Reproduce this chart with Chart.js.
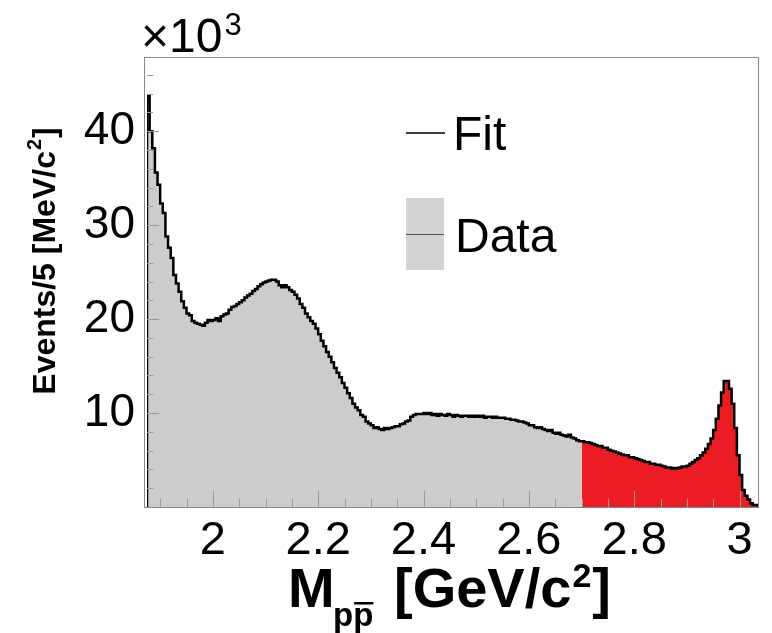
<!DOCTYPE html>
<html>
<head>
<meta charset="utf-8">
<script src="https://cdn.jsdelivr.net/npm/chart.js@4.4.1/dist/chart.umd.min.js"></script>
<style>
  html, body { margin: 0; padding: 0; background: #fff; }
  #wrap { width: 772px; height: 633px; }
</style>
</head>
<body>
<div id="wrap"><canvas id="massChart" width="772" height="633"></canvas></div>
<script>
// M(p pbar) histogram, 5 MeV bins, counts in units of 10^3
const binStart = 1.875;
const binWidth = 0.005;

// gray part: 1.875 .. 2.700 GeV
const dataCounts = [
  29.7, 43.8, 40.0, 38.2, 35.6, 34.3, 32.3, 31.3, 28.8, 27.6,
  26.5, 24.7, 23.8, 22.9, 21.9, 21.2, 20.6, 20.4, 19.8, 19.6,
  19.5, 19.4, 19.3, 19.6, 19.9, 19.8, 19.9, 20.1, 19.8, 20.3,
  20.5, 20.6, 21.0, 21.3, 21.4, 21.6, 21.8, 22.0, 22.3, 22.5,
  22.7, 23.0, 23.2, 23.5, 23.7, 23.9, 24.0, 24.1, 24.2, 24.2,
  24.0, 23.6, 23.4, 23.6, 23.4, 23.1, 22.9, 22.6, 22.2, 21.6,
  21.2, 20.6, 20.2, 19.8, 19.5, 19.0, 18.4, 17.7, 17.1, 16.5,
  16.0, 15.4, 14.8, 14.3, 13.8, 13.2, 12.7, 12.1, 11.6, 11.0,
  10.6, 10.3, 9.8, 9.6, 9.1, 8.9, 8.7, 8.4, 8.5, 8.3,
  8.2, 8.4, 8.3, 8.4, 8.5, 8.6, 8.6, 8.8, 8.9, 9.1,
  9.2, 9.6, 9.8, 9.9, 9.9, 9.9, 10.0, 9.9, 10.0, 9.8,
  9.9, 9.7, 9.9, 9.8, 9.7, 9.9, 9.8, 9.6, 9.8, 9.7,
  9.6, 9.7, 9.7, 9.6, 9.7, 9.6, 9.7, 9.6, 9.7, 9.5,
  9.6, 9.6, 9.5, 9.6, 9.5, 9.5, 9.5, 9.4, 9.4, 9.3,
  9.3, 9.2, 9.1, 9.1, 9.0, 8.9, 8.7, 8.7, 8.5, 8.4,
  8.5, 8.3, 8.2, 8.1, 8.2, 7.9, 7.8, 7.9, 7.7, 7.6,
  7.5, 7.7, 7.4, 7.3, 7.1
];

// red part: 2.700 .. 3.035 GeV
const signalCounts = [
  7.0, 7.0, 6.9, 6.9, 6.8, 6.7, 6.6, 6.5, 6.5, 6.3,
  6.3, 6.1, 6.0, 5.9, 5.8, 5.7, 5.6, 5.5, 5.5, 5.3,
  5.3, 5.2, 5.1, 5.0, 4.9, 4.8, 4.8, 4.6, 4.6, 4.5,
  4.5, 4.4, 4.3, 4.2, 4.2, 4.1, 4.15, 4.1, 4.2, 4.3,
  4.3, 4.4, 4.6, 4.8, 5.0, 5.2, 5.5, 5.8, 6.2, 6.7,
  7.3, 8.2, 9.4, 10.8, 12.2, 13.4, 13.4, 12.6, 11.0, 8.4,
  5.5, 3.4, 1.8, 1.2, 0.8, 0.4, 0.2
];

const xTickValues = [2, 2.2, 2.4, 2.6, 2.8, 3];
const yTickValues = [10, 20, 30, 40];
const xRange = [1.875, 3.037];
const yRange = [0, 47.9];

const edge = (i) => +(binStart + i * binWidth).toFixed(3);

function toPoints(counts, offset) {
  return counts.map((v, i) => ({ x: edge(offset + i), y: v }));
}

const nGray = dataCounts.length;
const nAll = nGray + signalCounts.length;
const grayPoints = [{ x: edge(0), y: 0 }, ...toPoints(dataCounts, 0),
  { x: edge(nGray), y: dataCounts[nGray - 1] }];
const redPoints = [...toPoints(signalCounts, nGray),
  { x: edge(nAll), y: signalCounts[signalCounts.length - 1] }, { x: edge(nAll), y: 0 }];
const allCounts = dataCounts.concat(signalCounts);
const outlinePoints = [{ x: edge(0), y: 0 }, ...toPoints(allCounts, 0),
  { x: edge(nAll), y: allCounts[nAll - 1] }, { x: edge(nAll), y: 0 }];

const FONT = '"Liberation Sans", Arial, Helvetica, sans-serif';

// ROOT style inward ticks + frame
const rootAxes = {
  id: 'rootAxes',
  afterDatasetsDraw(chart) {
    const { ctx, chartArea: a, scales: { x, y } } = chart;
    ctx.save();
    ctx.strokeStyle = '#999';
    ctx.lineWidth = 1;
    ctx.beginPath();
    for (let v = 2; v < yRange[1]; v += 2) {
      const py = Math.round(y.getPixelForValue(v)) + 0.5;
      const len = v % 10 === 0 ? 12 : 6;
      ctx.moveTo(a.left, py);
      ctx.lineTo(a.left + len, py);
    }
    for (let k = 38; k * 0.05 < xRange[1]; k++) {
      const v = k * 0.05;
      const px = Math.round(x.getPixelForValue(v)) + 0.5;
      const len = k % 4 === 0 ? 16 : 8;
      ctx.moveTo(px, a.bottom);
      ctx.lineTo(px, a.bottom - len);
    }
    ctx.stroke();
    ctx.strokeStyle = '#888';
    ctx.strokeRect(a.left - 2.5, a.top + 0.5, a.right - a.left + 2, a.bottom - a.top);
    ctx.restore();
  },
  afterDraw(chart) {
    const ctx = chart.ctx;
    ctx.save();
    ctx.fillStyle = '#000';
    ctx.textBaseline = 'alphabetic';
    ctx.textAlign = 'left';

    // x10^3
    ctx.font = '48px ' + FONT;
    ctx.fillText('\u00d710', 141, 52);
    const w10 = ctx.measureText('\u00d710').width;
    ctx.font = '31px ' + FONT;
    ctx.fillText('3', 141 + w10 + 2, 35);

    // legend
    ctx.strokeStyle = '#000';
    ctx.lineWidth = 1.5;
    ctx.beginPath();
    ctx.moveTo(406, 133);
    ctx.lineTo(445, 133);
    ctx.stroke();
    ctx.font = '48px ' + FONT;
    ctx.fillText('Fit', 453, 150);
    ctx.fillStyle = '#d3d3d3';
    ctx.fillRect(406, 198, 38, 72);
    ctx.strokeStyle = '#555';
    ctx.lineWidth = 1;
    ctx.beginPath();
    ctx.moveTo(406, 234.5);
    ctx.lineTo(444, 234.5);
    ctx.stroke();
    ctx.fillStyle = '#000';
    ctx.fillText('Data', 455, 252);

    // x title: M_{p pbar} [GeV/c^2]
    ctx.font = 'bold 56px ' + FONT;
    ctx.fillText('M', 288, 607);
    ctx.font = 'bold 33px ' + FONT;
    ctx.fillText('p', 333, 626);
    const pw = ctx.measureText('p').width;
    ctx.fillText('p', 333 + pw, 626);
    ctx.fillRect(333 + pw + 1, 602, pw - 1, 2.5);
    ctx.font = 'bold 56px ' + FONT;
    ctx.fillText('[GeV/c', 394, 607);
    const gw = ctx.measureText('[GeV/c').width;
    ctx.font = 'bold 34px ' + FONT;
    ctx.fillText('2', 394 + gw + 1, 587);
    const sw = ctx.measureText('2').width;
    ctx.font = 'bold 56px ' + FONT;
    ctx.fillText(']', 394 + gw + sw + 2, 607);

    // y title: Events/5 [MeV/c^2]
    ctx.translate(55, 261);
    ctx.rotate(-Math.PI / 2);
    ctx.font = 'bold 32px ' + FONT;
    const t1 = 'Events/5 [MeV/c';
    const w1 = ctx.measureText(t1).width;
    ctx.font = 'bold 20px ' + FONT;
    const w2 = ctx.measureText('2').width;
    ctx.font = 'bold 32px ' + FONT;
    const w3 = ctx.measureText(']').width;
    let sx = -(w1 + w2 + w3 + 2) / 2;
    ctx.fillText(t1, sx, 0);
    ctx.font = 'bold 20px ' + FONT;
    ctx.fillText('2', sx + w1 + 1, -14);
    ctx.font = 'bold 32px ' + FONT;
    ctx.fillText(']', sx + w1 + w2 + 2, 0);
    ctx.restore();
  }
};

const massChart = new Chart(document.getElementById('massChart'), {
  type: 'line',
  data: {
    datasets: [
      {
        label: 'Fit',
        data: outlinePoints,
        borderColor: '#000',
        borderWidth: 2.5,
        stepped: 'after',
        pointRadius: 0,
        fill: false,
      },
      {
        label: 'Signal',
        data: redPoints,
        borderWidth: 0,
        borderColor: 'rgba(0,0,0,0)',
        backgroundColor: '#ec1c24',
        stepped: 'after',
        pointRadius: 0,
        fill: 'origin',
      },
      {
        label: 'Data',
        data: grayPoints,
        borderWidth: 0,
        borderColor: 'rgba(0,0,0,0)',
        backgroundColor: '#cccccc',
        stepped: 'after',
        pointRadius: 0,
        fill: 'origin',
      },
    ],
  },
  options: {
    responsive: false,
    animation: false,
    events: [],
    layout: {
      padding: { left: 0, top: 57, right: 13, bottom: 0 }
    },
    plugins: {
      legend: { display: false },
      tooltip: { enabled: false },
    },
    scales: {
      x: {
        type: 'linear',
        min: xRange[0],
        max: xRange[1],
        afterBuildTicks: (scale) => { scale.ticks = xTickValues.map(v => ({ value: v })); },
        afterFit: (scale) => { scale.height = 126; },
        grid: { display: false, drawTicks: false },
        border: { display: false },
        ticks: {
          autoSkip: false,
          maxRotation: 0,
          padding: 6,
          color: '#000',
          font: { family: FONT, size: 47 },
          callback: (v) => String(+v.toFixed(1)),
        },
      },
      y: {
        type: 'linear',
        min: yRange[0],
        max: yRange[1],
        afterBuildTicks: (scale) => { scale.ticks = yTickValues.map(v => ({ value: v })); },
        afterFit: (scale) => { scale.width = 147; },
        grid: { display: false, drawTicks: false },
        border: { display: false },
        ticks: {
          padding: 12,
          color: '#000',
          font: { family: FONT, size: 46 },
        },
      },
    },
  },
  plugins: [rootAxes],
});
</script>
</body>
</html>
